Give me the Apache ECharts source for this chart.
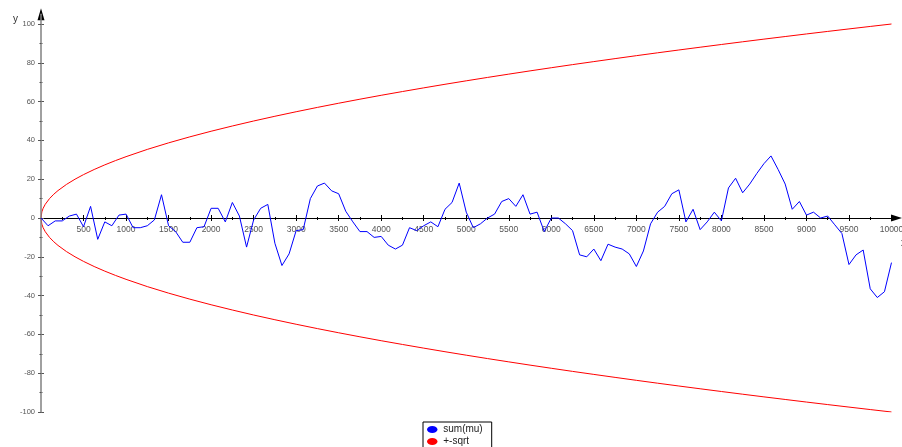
<!DOCTYPE html>
<html>
<head>
<meta charset="utf-8">
<title>sum(mu) and +-sqrt</title>
<script src="https://cdn.jsdelivr.net/npm/echarts@6/dist/echarts.min.js"></script>
<style>
  html, body { margin: 0; padding: 0; background: #fff; }
  #chart { width: 902px; height: 447px; }
</style>
</head>
<body>
<div id="chart"></div>
<script>
// Running sum of mu, sampled along x
const walkX = [0,83,167,250,333,417,500,583,667,750,833,917,1000,1083,1167,1250,1333,1417,1500,1583,1667,1750,1833,1917,2000,2083,2167,2250,2333,2417,2500,2583,2667,2750,2833,2917,3000,3083,3167,3250,3333,3417,3500,3583,3667,3750,3833,3917,4000,4083,4167,4250,4333,4417,4500,4583,4667,4750,4833,4917,5000,5083,5167,5250,5333,5417,5500,5583,5667,5750,5833,5917,6000,6083,6167,6250,6333,6417,6500,6583,6667,6750,6833,6917,7000,7083,7167,7250,7333,7417,7500,7583,7667,7750,7833,7917,8000,8083,8167,8250,8333,8417,8500,8583,8667,8750,8833,8917,9000,9083,9167,9250,9333,9417,9500,9583,9667,9750,9833,9917,10000];
const walkY = [0,-4,-1.5,-1.5,1,2,-4.5,6,-11,-2,-4,1.5,2,-5,-5,-4,-1,12,-4,-7,-12.5,-12.5,-5,-4.5,5,5,-2,8,1,-15,-1,5,7,-13,-24.5,-18.5,-6.5,-6,10,16.5,18,14,12.5,3.5,-2,-7,-7,-10,-9.5,-14,-16,-14,-5,-6.5,-4,-2,-4.5,4.5,8,18,3,-5,-3,0,2,8.5,10,6,12,2,3,-7,0,0,-3,-6.5,-19,-20,-16,-22,-13.5,-15,-16,-18.5,-25,-17,-3,3,6,12.5,14.5,-2,4.5,-6,-2,3,-1.5,15.5,20.5,13,17.5,23,28,32,25,17.5,4.5,8.5,1.5,3,0,1,-3.5,-8,-24,-19,-16.5,-36.5,-41,-38,-23];

// Envelope curve (upper branch; the lower branch is its mirror)
const envX = [0,10,25,50,100,150,200,300,400,500,625,750,875,1000,1250,1500,1750,2000,2250,2500,2750,3000,3250,3500,3750,4000,4250,4500,4750,5000,5250,5500,5750,6000,6250,6500,6750,7000,7250,7500,7750,8000,8250,8500,8750,9000,9250,9500,9750,10000];
const envY = [0,3.16,5,7.07,10,12.25,14.14,17.32,20,22.36,25,27.39,29.58,31.62,35.36,38.73,41.83,44.72,47.43,50,52.44,54.77,57.01,59.16,61.24,63.25,65.19,67.08,68.92,70.71,72.46,74.16,75.83,77.46,79.06,80.62,82.16,83.67,85.15,86.6,88.03,89.44,90.83,92.2,93.54,94.87,96.18,97.47,98.74,100];

// Labelled tick positions
const xTicks = [500,1000,1500,2000,2500,3000,3500,4000,4500,5000,5500,6000,6500,7000,7500,8000,8500,9000,9500,10000];
const yTicks = [-100,-80,-60,-40,-20,0,20,40,60,80,100];

const seriesNames = ['sum(mu)', '+-sqrt'];

const walkData = walkX.map((x, i) => [x, walkY[i]]);
const upperData = envX.map((x, i) => [x, envY[i]]);
const lowerData = envX.map((x, i) => [x, -envY[i]]);

const X_MIN = 0, X_MAX = 10060, Y_MIN = -100, Y_MAX = 105;
const labelFont = { fontFamily: 'Liberation Sans', color: '#555' };
const plain = v => String(v);

const chart = echarts.init(document.getElementById('chart'), null, { renderer: 'canvas' });
chart.setOption({
  animation: false,
  backgroundColor: '#fff',
  title: [
    { text: 'y', left: 8, top: 9, textStyle: { fontFamily: 'Liberation Sans', fontSize: 10, fontWeight: 'normal', color: '#333' } },
    { text: 'x', left: 896, top: 233, textStyle: { fontFamily: 'Liberation Sans', fontSize: 10, fontWeight: 'normal', color: '#333' } }
  ],
  grid: [
    // plotting area
    { left: 41, right: 5.4, top: 14.3, bottom: 35, containLabel: false, outerBoundsMode: 'none' },
    // upper half: its bottom edge carries the labelled x axis along y = 0
    { left: 41, right: 5.4, top: 14.3, bottom: 229, containLabel: false, outerBoundsMode: 'none' }
  ],
  legend: {
    orient: 'vertical', left: 423, top: 422, height: 60,
    padding: [2.5, 9, 2, 4], itemGap: 2, itemWidth: 12, itemHeight: 7,
    borderColor: '#000', borderWidth: 1, backgroundColor: '#fff',
    textStyle: { fontFamily: 'Liberation Sans', fontSize: 10, color: '#222' },
    data: seriesNames.map(n => ({ name: n, icon: 'path://M0,4A6,4 0 1,1 12,4A6,4 0 1,1 0,4Z' }))
  },
  xAxis: [
    { // data axis; its ticks point upward from the zero line
      gridIndex: 0, type: 'value', position: 'top', min: X_MIN, max: X_MAX, interval: 500,
      axisLine: { show: false, onZero: true, onZeroAxisIndex: 0 },
      axisTick: { show: true, customValues: xTicks, length: 3, lineStyle: { color: '#000' } },
      minorTick: { show: true, splitNumber: 2, length: 1, lineStyle: { color: '#000' } },
      axisLabel: { show: false },
      splitLine: { show: false }
    },
    { // visible x axis with arrow, downward ticks and labels
      gridIndex: 1, type: 'value', position: 'bottom', min: X_MIN, max: X_MAX, interval: 500,
      axisLine: { show: true, onZero: false, symbol: ['none', 'triangle'], symbolSize: [7, 11],
        lineStyle: { color: '#000', width: 1 } },
      axisTick: { show: true, customValues: xTicks, length: 3, lineStyle: { color: '#000' } },
      minorTick: { show: true, splitNumber: 2, length: 2, lineStyle: { color: '#000' } },
      axisLabel: { show: true, customValues: xTicks, formatter: plain, margin: 7, fontSize: 8.5, ...labelFont },
      splitLine: { show: false }
    }
  ],
  yAxis: [
    { // gray y axis with labels, ticks to the left
      gridIndex: 0, type: 'value', position: 'left', min: Y_MIN, max: Y_MAX, interval: 20, z: 3,
      axisLine: { show: true, onZero: false, lineStyle: { color: '#808080', width: 1.5 } },
      axisTick: { show: true, customValues: yTicks, length: 3, lineStyle: { color: '#555' } },
      minorTick: { show: true, splitNumber: 2, length: 1.5, lineStyle: { color: '#555' } },
      axisLabel: { show: true, customValues: yTicks, formatter: plain, margin: 6, fontSize: 7.5, ...labelFont },
      splitLine: { show: false }
    },
    { // hairline at x = 0 carrying the black arrow head and the right-hand ticks
      gridIndex: 0, type: 'value', position: 'right', min: Y_MIN, max: Y_MAX, interval: 20, z: 2,
      axisLine: { show: true, onZero: true, onZeroAxisIndex: 0, symbol: ['none', 'triangle'], symbolSize: [7, 12],
        lineStyle: { color: '#000', width: 0.01 } },
      axisTick: { show: true, customValues: yTicks, length: 3, lineStyle: { color: '#555' } },
      minorTick: { show: true, splitNumber: 2, length: 1.5, lineStyle: { color: '#555' } },
      axisLabel: { show: false },
      splitLine: { show: false }
    },
    { gridIndex: 1, type: 'value', show: false, min: 0, max: 1 }
  ],
  series: [
    { name: seriesNames[0], type: 'line', xAxisIndex: 0, yAxisIndex: 0, data: walkData,
      showSymbol: false, symbol: 'none',
      lineStyle: { color: '#0000ff', width: 1 }, itemStyle: { color: '#0000ff' }, z: 3 },
    { name: seriesNames[1], type: 'line', xAxisIndex: 0, yAxisIndex: 0, data: upperData,
      showSymbol: false, symbol: 'none',
      lineStyle: { color: '#ff0000', width: 1 }, itemStyle: { color: '#ff0000' }, z: 2 },
    { name: seriesNames[1], type: 'line', xAxisIndex: 0, yAxisIndex: 0, data: lowerData,
      showSymbol: false, symbol: 'none',
      lineStyle: { color: '#ff0000', width: 1 }, itemStyle: { color: '#ff0000' }, z: 2 }
  ]
});
</script>
</body>
</html>
